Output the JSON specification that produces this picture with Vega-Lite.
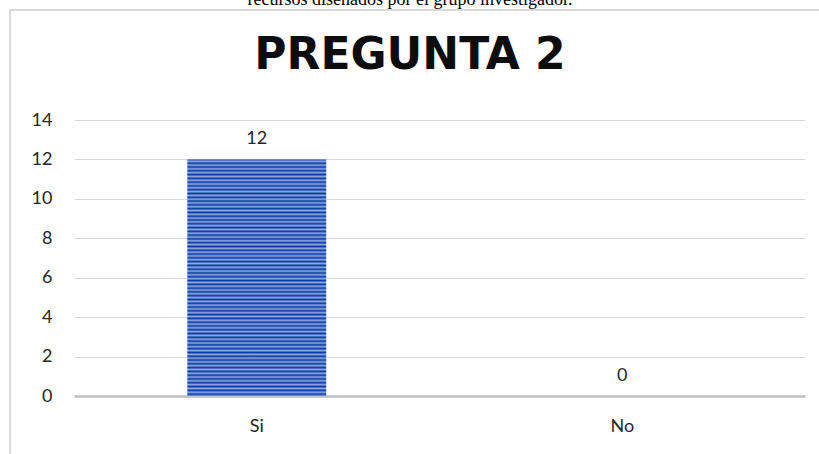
{
  "$schema": "https://vega.github.io/schema/vega-lite/v6.json",
  "autosize": "none",
  "width": 830,
  "height": 460,
  "padding": {"left": 10, "top": 10, "right": 0, "bottom": 0},
  "background": "white",
  "config": {"view": {"stroke": "#d9d9d9", "strokeWidth": 2}},
  "title": {
    "text": "recursos diseñados por el grupo investigador.",
    "subtitle": "PREGUNTA 2",
    "font": "Liberation Serif",
    "fontSize": 18,
    "fontWeight": "normal",
    "color": "black",
    "subtitleFont": "DejaVu Sans",
    "subtitleFontSize": 44,
    "subtitleFontWeight": "bold",
    "subtitleColor": "#0d0d0d",
    "subtitlePadding": 25,
    "anchor": "middle",
    "frame": "group",
    "offset": 0,
    "dx": -15,
    "dy": 68
  },
  "data": {"values": [
    {"respuesta": "Si", "cantidad": 12},
    {"respuesta": "No", "cantidad": 0}
  ]},
  "encoding": {
    "x": {
      "field": "respuesta", "type": "nominal", "sort": ["Si", "No"],
      "scale": {"range": [64, 795], "paddingInner": 0.62, "paddingOuter": 0.31},
      "axis": {"title": null, "orient": "bottom", "offset": -74, "domain": false, "ticks": false, "labelAngle": 0,
               "labelFont": "Lato", "labelFontSize": 18, "labelColor": "#262626", "labelPadding": 21}
    },
    "y": {
      "field": "cantidad", "type": "quantitative",
      "scale": {"domain": [0, 14], "range": [386, 110], "nice": false},
      "axis": {"title": null, "values": [0, 2, 4, 6, 8, 10, 12, 14], "offset": -50, "domain": false, "ticks": false,
               "labelFont": "Lato", "labelFontSize": 18, "labelColor": "#262626", "labelPadding": 8,
               "labelFlush": false, "labelOverlap": false,
               "gridColor": {"condition": {"test": "datum.value === 0", "value": "#bfbfbf"}, "value": "#d9d9d9"},
               "gridWidth": {"condition": {"test": "datum.value === 0", "value": 2.5}, "value": 1}}
    }
  },
  "layer": [
    {
      "mark": {"type": "bar", "fill": {
        "gradient": "linear", "x1": 0, "y1": 0, "x2": 0, "y2": 1,
        "stops": [
          {"offset": 0, "color": "#0a3aa0"}, {"offset": 0.008, "color": "#8ea9e6"},
          {"offset": 0.016, "color": "#0a3aa0"}, {"offset": 0.024, "color": "#8ea9e6"},
          {"offset": 0.032, "color": "#0a3aa0"}, {"offset": 0.04, "color": "#8ea9e6"},
          {"offset": 0.048, "color": "#0a3aa0"}, {"offset": 0.056, "color": "#8ea9e6"},
          {"offset": 0.064, "color": "#0a3aa0"}, {"offset": 0.072, "color": "#8ea9e6"},
          {"offset": 0.08, "color": "#0a3aa0"}, {"offset": 0.088, "color": "#8ea9e6"},
          {"offset": 0.096, "color": "#0a3aa0"}, {"offset": 0.104, "color": "#8ea9e6"},
          {"offset": 0.112, "color": "#0a3aa0"}, {"offset": 0.12, "color": "#8ea9e6"},
          {"offset": 0.128, "color": "#0a3aa0"}, {"offset": 0.136, "color": "#8ea9e6"},
          {"offset": 0.144, "color": "#0a3aa0"}, {"offset": 0.152, "color": "#8ea9e6"},
          {"offset": 0.16, "color": "#0a3aa0"}, {"offset": 0.168, "color": "#8ea9e6"},
          {"offset": 0.176, "color": "#0a3aa0"}, {"offset": 0.184, "color": "#8ea9e6"},
          {"offset": 0.192, "color": "#0a3aa0"}, {"offset": 0.2, "color": "#8ea9e6"},
          {"offset": 0.208, "color": "#0a3aa0"}, {"offset": 0.216, "color": "#8ea9e6"},
          {"offset": 0.224, "color": "#0a3aa0"}, {"offset": 0.232, "color": "#8ea9e6"},
          {"offset": 0.24, "color": "#0a3aa0"}, {"offset": 0.248, "color": "#8ea9e6"},
          {"offset": 0.256, "color": "#0a3aa0"}, {"offset": 0.264, "color": "#8ea9e6"},
          {"offset": 0.272, "color": "#0a3aa0"}, {"offset": 0.28, "color": "#8ea9e6"},
          {"offset": 0.288, "color": "#0a3aa0"}, {"offset": 0.296, "color": "#8ea9e6"},
          {"offset": 0.304, "color": "#0a3aa0"}, {"offset": 0.312, "color": "#8ea9e6"},
          {"offset": 0.32, "color": "#0a3aa0"}, {"offset": 0.328, "color": "#8ea9e6"},
          {"offset": 0.336, "color": "#0a3aa0"}, {"offset": 0.344, "color": "#8ea9e6"},
          {"offset": 0.352, "color": "#0a3aa0"}, {"offset": 0.36, "color": "#8ea9e6"},
          {"offset": 0.368, "color": "#0a3aa0"}, {"offset": 0.376, "color": "#8ea9e6"},
          {"offset": 0.384, "color": "#0a3aa0"}, {"offset": 0.392, "color": "#8ea9e6"},
          {"offset": 0.4, "color": "#0a3aa0"}, {"offset": 0.408, "color": "#8ea9e6"},
          {"offset": 0.416, "color": "#0a3aa0"}, {"offset": 0.424, "color": "#8ea9e6"},
          {"offset": 0.432, "color": "#0a3aa0"}, {"offset": 0.44, "color": "#8ea9e6"},
          {"offset": 0.448, "color": "#0a3aa0"}, {"offset": 0.456, "color": "#8ea9e6"},
          {"offset": 0.464, "color": "#0a3aa0"}, {"offset": 0.472, "color": "#8ea9e6"},
          {"offset": 0.48, "color": "#0a3aa0"}, {"offset": 0.488, "color": "#8ea9e6"},
          {"offset": 0.496, "color": "#0a3aa0"}, {"offset": 0.504, "color": "#8ea9e6"},
          {"offset": 0.512, "color": "#0a3aa0"}, {"offset": 0.52, "color": "#8ea9e6"},
          {"offset": 0.528, "color": "#0a3aa0"}, {"offset": 0.536, "color": "#8ea9e6"},
          {"offset": 0.544, "color": "#0a3aa0"}, {"offset": 0.552, "color": "#8ea9e6"},
          {"offset": 0.56, "color": "#0a3aa0"}, {"offset": 0.568, "color": "#8ea9e6"},
          {"offset": 0.576, "color": "#0a3aa0"}, {"offset": 0.584, "color": "#8ea9e6"},
          {"offset": 0.592, "color": "#0a3aa0"}, {"offset": 0.6, "color": "#8ea9e6"},
          {"offset": 0.608, "color": "#0a3aa0"}, {"offset": 0.616, "color": "#8ea9e6"},
          {"offset": 0.624, "color": "#0a3aa0"}, {"offset": 0.632, "color": "#8ea9e6"},
          {"offset": 0.64, "color": "#0a3aa0"}, {"offset": 0.648, "color": "#8ea9e6"},
          {"offset": 0.656, "color": "#0a3aa0"}, {"offset": 0.664, "color": "#8ea9e6"},
          {"offset": 0.672, "color": "#0a3aa0"}, {"offset": 0.68, "color": "#8ea9e6"},
          {"offset": 0.688, "color": "#0a3aa0"}, {"offset": 0.696, "color": "#8ea9e6"},
          {"offset": 0.704, "color": "#0a3aa0"}, {"offset": 0.712, "color": "#8ea9e6"},
          {"offset": 0.72, "color": "#0a3aa0"}, {"offset": 0.728, "color": "#8ea9e6"},
          {"offset": 0.736, "color": "#0a3aa0"}, {"offset": 0.744, "color": "#8ea9e6"},
          {"offset": 0.752, "color": "#0a3aa0"}, {"offset": 0.76, "color": "#8ea9e6"},
          {"offset": 0.768, "color": "#0a3aa0"}, {"offset": 0.776, "color": "#8ea9e6"},
          {"offset": 0.784, "color": "#0a3aa0"}, {"offset": 0.792, "color": "#8ea9e6"},
          {"offset": 0.8, "color": "#0a3aa0"}, {"offset": 0.808, "color": "#8ea9e6"},
          {"offset": 0.816, "color": "#0a3aa0"}, {"offset": 0.824, "color": "#8ea9e6"},
          {"offset": 0.832, "color": "#0a3aa0"}, {"offset": 0.84, "color": "#8ea9e6"},
          {"offset": 0.848, "color": "#0a3aa0"}, {"offset": 0.856, "color": "#8ea9e6"},
          {"offset": 0.864, "color": "#0a3aa0"}, {"offset": 0.872, "color": "#8ea9e6"},
          {"offset": 0.88, "color": "#0a3aa0"}, {"offset": 0.888, "color": "#8ea9e6"},
          {"offset": 0.896, "color": "#0a3aa0"}, {"offset": 0.904, "color": "#8ea9e6"},
          {"offset": 0.912, "color": "#0a3aa0"}, {"offset": 0.92, "color": "#8ea9e6"},
          {"offset": 0.928, "color": "#0a3aa0"}, {"offset": 0.936, "color": "#8ea9e6"},
          {"offset": 0.944, "color": "#0a3aa0"}, {"offset": 0.952, "color": "#8ea9e6"},
          {"offset": 0.96, "color": "#0a3aa0"}, {"offset": 0.968, "color": "#8ea9e6"},
          {"offset": 0.976, "color": "#0a3aa0"}, {"offset": 0.984, "color": "#8ea9e6"},
          {"offset": 0.992, "color": "#0a3aa0"}, {"offset": 1, "color": "#8ea9e6"}
        ]
      }}
    },
    {
      "mark": {"type": "text", "baseline": "bottom", "dy": -11, "font": "Lato", "fontSize": 18, "color": "#262626"},
      "encoding": {"text": {"field": "cantidad", "type": "quantitative"}}
    }
  ]
}
